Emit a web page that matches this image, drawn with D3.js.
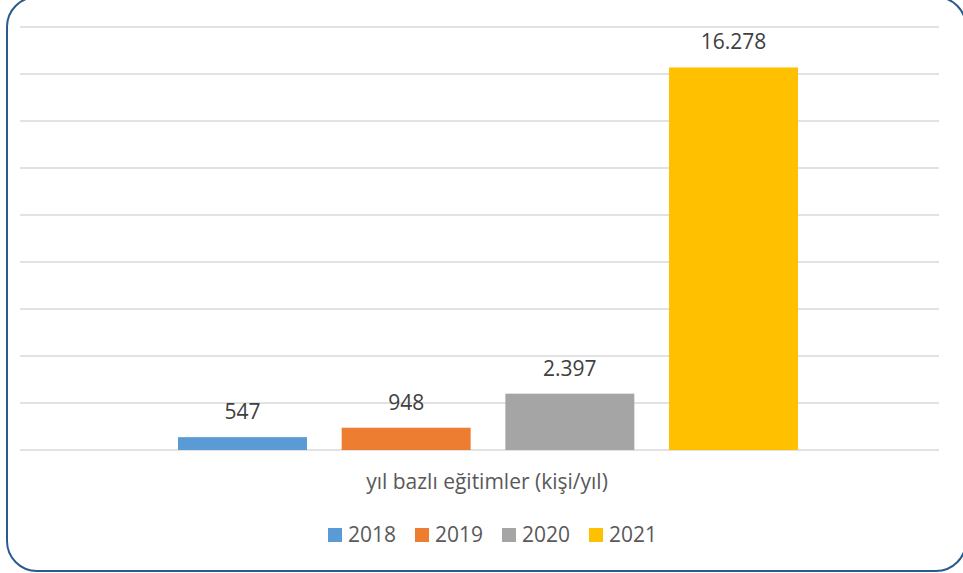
<!DOCTYPE html>
<html><head><meta charset="utf-8">
<script src="https://cdn.jsdelivr.net/npm/d3@7"></script>
<style>html,body{margin:0;padding:0;background:#fff;}svg{display:block;}</style>
</head><body>
<script>
const category = "yıl bazlı eğitimler (kişi/yıl)";
const seriesNames = ["2018", "2019", "2020", "2021"];
const seriesValues = [547, 948, 2397, 16278];
const valueLabels = ["547", "948", "2.397", "16.278"];
const seriesColors = ["#5B9BD5", "#ED7D31", "#A5A5A5", "#FFC000"];
const yTicks = [0, 2000, 4000, 6000, 8000, 10000, 12000, 14000, 16000, 18000];

const W = 963, H = 573;
const svg = d3.select("body").append("svg").attr("width", W).attr("height", H);
const font = "'Open Sans', sans-serif";
const fs = 21;

svg.append("rect").attr("x", 7).attr("y", -3).attr("width", 959).attr("height", 574)
  .attr("rx", 30).attr("ry", 30).attr("fill", "#fff").attr("stroke", "#2b5b8c").attr("stroke-width", 2);

const plotL = 20, plotR = 939;
const y = d3.scaleLinear().domain([0, 18000]).range([450, 27]);
const x = d3.scaleBand().domain(seriesNames).range([178, 798]).paddingInner(0.212).paddingOuter(0);

svg.append("g").selectAll("line").data(yTicks).join("line")
  .attr("x1", plotL).attr("x2", plotR)
  .attr("y1", d => y(d)).attr("y2", d => y(d))
  .attr("stroke", "#d9d9d9").attr("stroke-width", 1.5);

svg.append("g").selectAll("rect").data(seriesNames).join("rect")
  .attr("x", d => x(d)).attr("width", x.bandwidth())
  .attr("y", (d, i) => y(seriesValues[i]))
  .attr("height", (d, i) => y(0) - y(seriesValues[i]))
  .attr("fill", (d, i) => seriesColors[i]);

svg.append("g").selectAll("text").data(seriesNames).join("text")
  .attr("x", d => x(d) + x.bandwidth() / 2)
  .attr("y", (d, i) => y(seriesValues[i]) - 18)
  .attr("text-anchor", "middle").attr("font-family", font).attr("font-size", fs)
  .attr("fill", "#404040").text((d, i) => valueLabels[i]);

svg.append("text").attr("x", 487).attr("y", 489)
  .attr("text-anchor", "middle").attr("font-family", font).attr("font-size", fs)
  .attr("fill", "#595959").text(category);

const leg = svg.append("g").selectAll("g").data(seriesNames).join("g")
  .attr("transform", (d, i) => `translate(${328 + i * 87},528)`);
leg.append("rect").attr("width", 14).attr("height", 14).attr("fill", (d, i) => seriesColors[i]);
leg.append("text").attr("x", 20).attr("y", 14).attr("font-family", font).attr("font-size", fs)
  .attr("fill", "#595959").text(d => d);
</script>
</body></html>
